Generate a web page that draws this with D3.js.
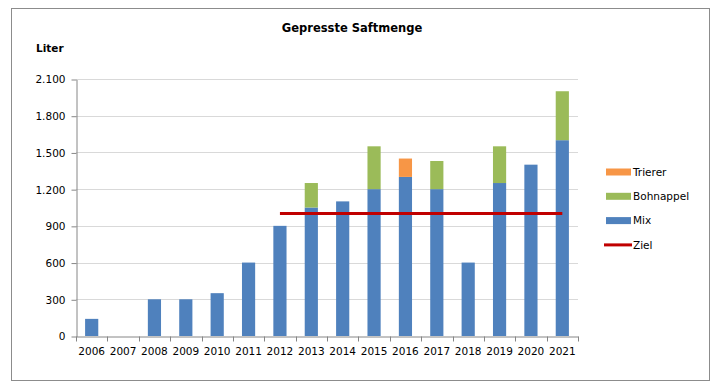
<!DOCTYPE html>
<html>
<head>
<meta charset="utf-8">
<script src="https://cdn.jsdelivr.net/npm/d3@7"></script>
<style>
  body { margin: 0; background: #fff; }
  svg { font-family: "DejaVu Sans", Verdana, sans-serif; }
</style>
</head>
<body>
<svg id="chart" width="715" height="389"></svg>
<script>
// data
var years = ['2006','2007','2008','2009','2010','2011','2012','2013','2014','2015','2016','2017','2018','2019','2020','2021'];
var mix = [140, 0, 300, 300, 350, 600, 900, 1050, 1100, 1200, 1300, 1200, 600, 1250, 1400, 1600];
var bohnappel = [0, 0, 0, 0, 0, 0, 0, 200, 0, 350, 0, 230, 0, 300, 0, 400];
var trierer = [0, 0, 0, 0, 0, 0, 0, 0, 0, 0, 150, 0, 0, 0, 0, 0];
var zielYears = ['2012', '2021'];
var zielValue = 1000;
var yTicks = [0, 300, 600, 900, 1200, 1500, 1800, 2100];

var seriesKeys = ['Mix', 'Bohnappel', 'Trierer'];
var colors = { Mix: '#4F81BD', Bohnappel: '#9BBB59', Trierer: '#F79646' };

var rows = years.map(function(y, i) {
    return { year: y, Mix: mix[i], Bohnappel: bohnappel[i], Trierer: trierer[i] };
});

var svg = d3.select('#chart');

// outer frame
svg.append('rect')
    .attr('x', 11.5).attr('y', 8.5)
    .attr('width', 698).attr('height', 372)
    .attr('fill', 'none')
    .attr('stroke', '#8c8c8c')
    .attr('stroke-width', 1);

var plotLeft = 76, plotRight = 578, plotTop = 79, plotBottom = 336;

var x = d3.scaleBand()
    .domain(years)
    .range([plotLeft, plotRight])
    .paddingInner(0.58)
    .paddingOuter(0.29);

var y = d3.scaleLinear()
    .domain([0, 2100])
    .range([plotBottom, plotTop]);

var fmt = function(d) { return d3.format(',')(d).replace(/,/g, '.'); };

// gridlines
svg.append('g')
    .selectAll('line')
    .data(yTicks.filter(function(d) { return d > 0; }))
    .enter()
    .append('line')
    .attr('x1', plotLeft).attr('x2', plotRight)
    .attr('y1', function(d) { return Math.round(y(d)) + 0.5; })
    .attr('y2', function(d) { return Math.round(y(d)) + 0.5; })
    .attr('stroke', '#d9d9d9')
    .attr('stroke-width', 1);

// y axis
var yAxis = svg.append('g')
    .attr('transform', 'translate(' + (plotLeft + 0.5) + ',0.5)')
    .call(d3.axisLeft(y).tickValues(yTicks).tickFormat(fmt).tickSize(5).tickSizeOuter(0));
yAxis.selectAll('text')
    .attr('font-size', '10.5px')
    .attr('fill', '#000')
    .attr('x', -11);
yAxis.selectAll('line, path').attr('stroke', '#868686');
yAxis.attr('font-family', null);

// stacked bars
var stack = d3.stack().keys(seriesKeys)(rows);

svg.append('g')
    .selectAll('g')
    .data(stack)
    .enter()
    .append('g')
    .attr('fill', function(d) { return colors[d.key]; })
    .selectAll('rect')
    .data(function(d) { return d; })
    .enter()
    .append('rect')
    .attr('x', function(d) { return x(d.data.year); })
    .attr('width', x.bandwidth())
    .attr('y', function(d) { return y(d[1]); })
    .attr('height', function(d) { return y(d[0]) - y(d[1]); });

// x axis
var xAxis = svg.append('g')
    .attr('transform', 'translate(0,' + (plotBottom + 0.5) + ')')
    .call(d3.axisBottom(x).tickSize(0).tickSizeOuter(0));
xAxis.select('.domain').attr('stroke', '#868686');
xAxis.selectAll('text')
    .attr('font-size', '10.5px')
    .attr('fill', '#000')
    .attr('dy', '1.45em');
xAxis.attr('font-family', null);

// category boundary ticks
xAxis.selectAll('.bound')
    .data(d3.range(years.length + 1))
    .enter()
    .append('line')
    .attr('x1', function(i) { return Math.round(plotLeft + i * (plotRight - plotLeft) / years.length) + 0.5; })
    .attr('x2', function(i) { return Math.round(plotLeft + i * (plotRight - plotLeft) / years.length) + 0.5; })
    .attr('y1', 0).attr('y2', 5)
    .attr('stroke', '#868686');

// Ziel line
svg.append('line')
    .attr('x1', x(zielYears[0]) + x.bandwidth() / 2)
    .attr('x2', x(zielYears[1]) + x.bandwidth() / 2)
    .attr('y1', y(zielValue))
    .attr('y2', y(zielValue))
    .attr('stroke', '#C00000')
    .attr('stroke-width', 3);

// title
svg.append('text')
    .attr('x', 352).attr('y', 32)
    .attr('text-anchor', 'middle')
    .attr('font-size', '11.5px')
    .attr('font-weight', 'bold')
    .text('Gepresste Saftmenge');

svg.append('text')
    .attr('x', 36).attr('y', 52)
    .attr('font-size', '10.5px')
    .attr('font-weight', 'bold')
    .text('Liter');

// legend
var legendItems = [
    { name: 'Trierer', type: 'bar', color: colors.Trierer },
    { name: 'Bohnappel', type: 'bar', color: colors.Bohnappel },
    { name: 'Mix', type: 'bar', color: colors.Mix },
    { name: 'Ziel', type: 'line', color: '#C00000' }
];

var lg = svg.append('g')
    .selectAll('g')
    .data(legendItems)
    .enter()
    .append('g')
    .attr('transform', function(d, i) { return 'translate(606,' + (172 + i * 24.3) + ')'; });

lg.filter(function(d) { return d.type === 'bar'; })
    .append('rect')
    .attr('x', 0).attr('y', -3.5)
    .attr('width', 25).attr('height', 7)
    .attr('fill', function(d) { return d.color; });

lg.filter(function(d) { return d.type === 'line'; })
    .append('line')
    .attr('x1', -2).attr('x2', 26)
    .attr('y1', 0).attr('y2', 0)
    .attr('stroke', function(d) { return d.color; })
    .attr('stroke-width', 3);

lg.append('text')
    .attr('x', 27)
    .attr('dy', '0.36em')
    .attr('font-size', '10.5px')
    .text(function(d) { return d.name; });
</script>
</body>
</html>
